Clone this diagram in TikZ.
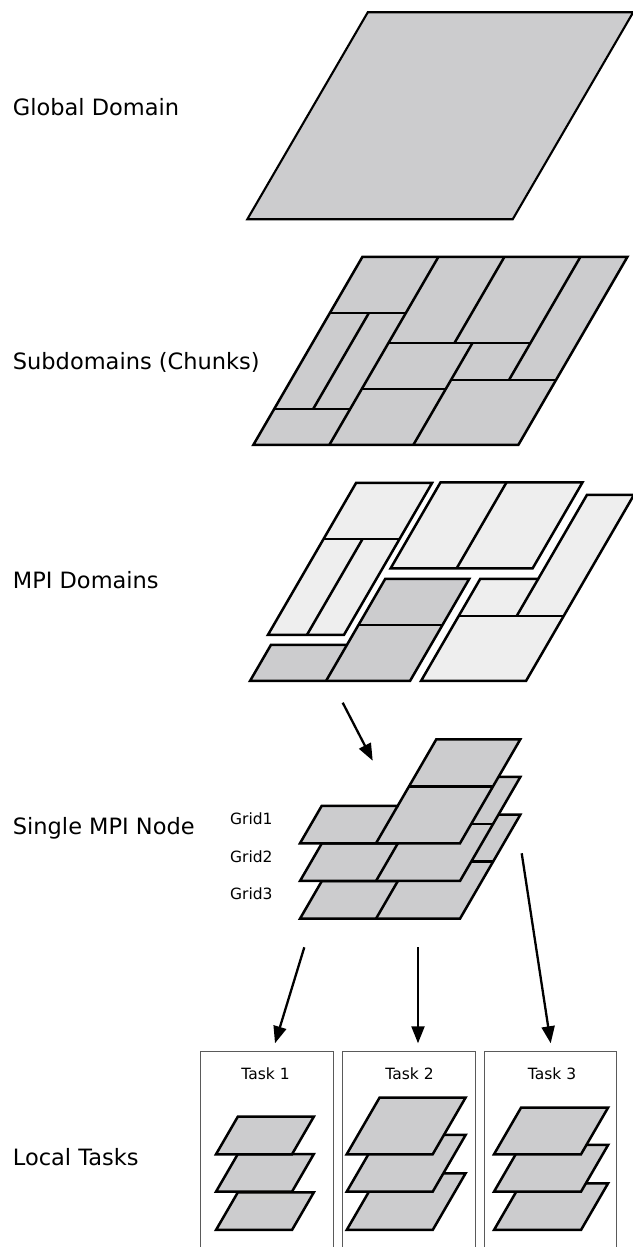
\documentclass[tikz,border=0pt]{standalone}
\usepackage{fontspec}
\setmainfont{DejaVu Sans}
\usetikzlibrary{arrows.meta}
\definecolor{darkfill}{RGB}{204,204,206}
\definecolor{lightfill}{RGB}{238,238,238}
\definecolor{boxline}{RGB}{90,90,90}
\tikzset{
  plate/.style={draw=black, line width=2.5pt, fill=darkfill},
  lplate/.style={draw=black, line width=2.5pt, fill=lightfill},
  divline/.style={draw=black, line width=2.5pt},
  biglabel/.style={font=\fontsize{22.5}{27}\selectfont, anchor=base west, inner sep=0pt},
  gridlabel/.style={font=\fontsize{15.5}{18}\selectfont, anchor=base west, inner sep=0pt},
  tasklabel/.style={font=\fontsize{15.5}{18}\selectfont, anchor=base, inner sep=0pt},
  arr/.style={-{Triangle[length=17pt,width=13pt]}, line width=2.3pt},
  taskbox/.style={draw=boxline, line width=1pt, fill=white}
}
\newcommand\mygridlayer{%
  \fill[darkfill] (0,0) -- (160,0) -- (160,104) -- (76,104) -- (76,37.5) -- (0,37.5) -- cycle;
  \draw[divline] (76,57) -- (160,57);
  \draw[divline] (76,0) -- (76,37.5);
  \draw[divline] (0,0) -- (160,0) -- (160,104) -- (76,104) -- (76,37.5) -- (0,37.5) -- cycle;
}
\begin{document}
\begin{tikzpicture}[x=1pt,y=1pt]
\useasboundingbox (0,0) rectangle (632,1247);

% ---------- labels ----------
\node[biglabel] (lglobal) at (12.7,1247-116) {Global Domain};
\node[biglabel] (lsub) at (12.7,1247-370) {Subdomains (Chunks)};
\node[biglabel] (lmpi) at (12.7,1247-588.3) {MPI Domains};
\node[biglabel] (lnode) at (12.7,1247-834.3) {Single MPI Node};
\node[biglabel] (ltasks) at (12.7,1247-1166) {Local Tasks};

% ---------- global domain ----------
\begin{scope}[shift={(247.3,1247-219.3)}, xslant=0.582]
  \draw[plate, line width=2.1pt] (0,0) -- (265.4,0) -- (265.4,207) -- (0,207) -- cycle;
\end{scope}

% ---------- subdomains ----------
\begin{scope}[shift={(253.3,1247-445)}, xslant=0.58]
  \fill[darkfill] (0,0) -- (265,0) -- (265,188) -- (0,188) -- cycle;
  \draw[divline] (76,0) -- (76,188);
  \draw[divline] (0,132) -- (76,132);
  \draw[divline] (0,36) -- (76,36);
  \draw[divline] (39,36) -- (39,132);
  \draw[divline] (76,102) -- (218,102);
  \draw[divline] (142,102) -- (142,188);
  \draw[divline] (218,65) -- (218,188);
  \draw[divline] (160,0) -- (160,102);
  \draw[divline] (160,65) -- (265,65);
  \draw[divline] (76,56) -- (160,56);
  \draw[divline] (0,0) -- (265,0) -- (265,188) -- (0,188) -- cycle;
\end{scope}

% ---------- MPI domains ----------
% piece D (dark)
\begin{scope}[shift={(250,1247-681)}, xslant=0.58]
  \fill[darkfill] (0,0) -- (160,0) -- (160,102) -- (76,102) -- (76,36) -- (0,36) -- cycle;
  \draw[divline] (76,56) -- (160,56);
  \draw[divline] (76,0) -- (76,36);
  \draw[divline] (0,0) -- (160,0) -- (160,102) -- (76,102) -- (76,36) -- (0,36) -- cycle;
\end{scope}
% piece A (light)
\begin{scope}[shift={(247,1247-671)}, xslant=0.58]
  \fill[lightfill] (0,36) -- (76,36) -- (76,188) -- (0,188) -- cycle;
  \draw[divline] (0,132) -- (76,132);
  \draw[divline] (39,36) -- (39,132);
  \draw[divline] (0,36) -- (76,36) -- (76,188) -- (0,188) -- cycle;
\end{scope}
% piece B (light)
\begin{scope}[shift={(255.5,1247-670.3)}, xslant=0.58]
  \fill[lightfill] (76,102) -- (218,102) -- (218,188) -- (76,188) -- cycle;
  \draw[divline] (142,102) -- (142,188);
  \draw[divline] (76,102) -- (218,102) -- (218,188) -- (76,188) -- cycle;
\end{scope}
% piece C (light)
\begin{scope}[shift={(261,1247-681)}, xslant=0.58]
  \fill[lightfill] (160,0) -- (265,0) -- (265,186) -- (218,186) -- (218,102) -- (160,102) -- cycle;
  \draw[divline] (160,65) -- (265,65);
  \draw[divline] (218,65) -- (218,102);
  \draw[divline] (160,0) -- (265,0) -- (265,186) -- (218,186) -- (218,102) -- (160,102) -- cycle;
\end{scope}

% ---------- single MPI node ----------
\begin{scope}[shift={(300,1247-843.3-75.4)}, xslant=0.58]
  \mygridlayer
\end{scope}
\begin{scope}[shift={(300,1247-843.3-37.7)}, xslant=0.58]
  \mygridlayer
\end{scope}
\begin{scope}[shift={(300,1247-843.3)}, xslant=0.58]
  \mygridlayer
\end{scope}
\node[gridlabel] (g1) at (230,1247-825) {Grid1};
\node[gridlabel] (g2) at (230,1247-862.3) {Grid2};
\node[gridlabel] (g3) at (230,1247-900) {Grid3};

% ---------- task boxes ----------
\draw[taskbox] (200.7,-5) rectangle (333.3,1247-1051.7);
\draw[taskbox] (342.7,-5) rectangle (475,1247-1051.7);
\draw[taskbox] (484.3,-5) rectangle (616.7,1247-1051.7);
\node[tasklabel] (t1) at (265.5,1247-1080) {Task 1};
\node[tasklabel] (t2) at (409.5,1247-1080) {Task 2};
\node[tasklabel] (t3) at (552,1247-1080) {Task 3};

% task 1 layers
\foreach \b in {1230,1191.7,1154.3}{
  \begin{scope}[shift={(216,1247-\b)}, xslant=0.58]
    \draw[plate] (0,0) -- (76,0) -- (76,37.6) -- (0,37.6) -- cycle;
  \end{scope}
}
% task 2 layers
\foreach \b in {1230,1191.7,1154.3}{
  \begin{scope}[shift={(346.7,1247-\b)}, xslant=0.58]
    \draw[plate] (0,0) -- (86,0) -- (86,56.7) -- (0,56.7) -- cycle;
  \end{scope}
}
% task 3 layers
\foreach \b in {1230,1191.7,1154.3}{
  \begin{scope}[shift={(494,1247-\b)}, xslant=0.58]
    \draw[plate] (0,0) -- (87,0) -- (87,46.7) -- (0,46.7) -- cycle;
  \end{scope}
}

% ---------- arrows ----------
\coordinate (a1s) at (342.7,1247-702.7);
\coordinate (a1e) at (372.7,1247-760.7);
\coordinate (a2s) at (304.3,1247-947.3);
\coordinate (a2e) at (275,1247-1043.3);
\coordinate (a3s) at (418,1247-947.3);
\coordinate (a3e) at (418,1247-1043.3);
\coordinate (a4s) at (521.7,1247-853.3);
\coordinate (a4e) at (550.7,1247-1043.3);
\draw[arr] (a1s) -- (a1e);
\draw[arr] (a2s) -- (a2e);
\draw[arr] (a3s) -- (a3e);
\draw[arr] (a4s) -- (a4e);
\end{tikzpicture}
\end{document}
